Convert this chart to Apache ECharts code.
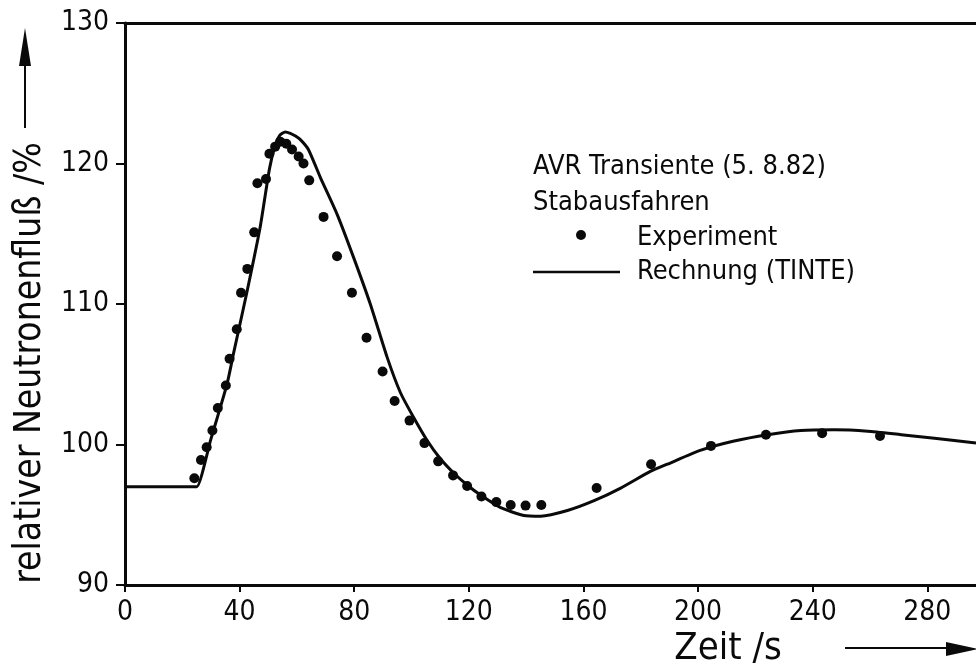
<!DOCTYPE html>
<html>
<head>
<meta charset="utf-8">
<script src="https://cdn.jsdelivr.net/npm/echarts@6/dist/echarts.min.js"></script>
<style>
html,body{margin:0;padding:0;background:#fff;}
#chart{width:976px;height:671px;}
</style>
</head>
<body>
<div id="chart"></div>
<script>
// ---- data ----
const xTicks = [0, 40, 80, 120, 160, 200, 240, 280];
const yTicks = [90, 100, 110, 120, 130];

// Rechnung (TINTE): time [s] and relative neutron flux [%]
const calcTime = [0, 12, 24.4, 25.1, 30, 35.6, 37.9, 42.5, 47.2, 50.4, 52.4, 54.0, 55.9, 57.7, 59.5, 61.2, 64.0, 68.2, 74.0, 79.8, 85.6, 91.5, 96.1, 100.8, 105.4, 110.0, 114.8, 119.5, 124.1, 131.1, 139.2, 145.1, 154.4, 163.7, 173.0, 183.5, 189.3, 201.0, 212.6, 224.3, 235.9, 247.6, 259.2, 270.9, 282.5, 297.0];
const calcFlux = [97.0, 97.0, 97.0, 97.0, 100.4, 104.3, 106.5, 110.8, 115.5, 119.6, 121.3, 122.0, 122.25, 122.15, 121.95, 121.7, 121.0, 119.0, 116.4, 113.3, 110.0, 106.2, 103.7, 101.9, 100.3, 99.0, 97.95, 97.1, 96.4, 95.5, 94.95, 94.9, 95.3, 96.0, 96.9, 98.1, 98.6, 99.6, 100.25, 100.7, 101.0, 101.05, 100.95, 100.7, 100.45, 100.1];

// Experiment points
const expTime = [24.2, 26.5, 28.5, 30.5, 32.4, 35.2, 36.5, 39.0, 40.5, 42.7, 45.1, 46.2, 49.2, 50.4, 52.4, 54.2, 56.3, 58.3, 60.6, 62.3, 64.3, 69.3, 74.0, 79.2, 84.3, 89.9, 94.1, 99.3, 104.5, 109.3, 114.5, 119.4, 124.4, 129.6, 134.6, 139.8, 145.3, 164.6, 183.6, 204.5, 223.7, 243.3, 263.5];
const expFlux = [97.6, 98.9, 99.8, 101.0, 102.6, 104.2, 106.1, 108.2, 110.8, 112.5, 115.1, 118.6, 118.9, 120.7, 121.2, 121.55, 121.4, 121.0, 120.5, 120.0, 118.8, 116.2, 113.4, 110.8, 107.6, 105.2, 103.1, 101.7, 100.1, 98.8, 97.8, 97.05, 96.3, 95.9, 95.7, 95.65, 95.7, 96.9, 98.6, 99.9, 100.7, 100.8, 100.6];

const titleText = 'AVR Transiente (5. 8.82)';
const subtitleText = 'Stabausfahren';
const expName = 'Experiment';
const calcName = 'Rechnung (TINTE)';
const xName = 'Zeit /s';
const yName = 'relativer Neutronenfluß /%';

// ---- chart ----
const NUM_FONT = '"DejaVu Sans Condensed", "DejaVu Sans", sans-serif';
const TXT_FONT = '"DejaVu Sans Condensed", "DejaVu Sans", sans-serif';
const INK = '#0a0a0a';

const chart = echarts.init(document.getElementById('chart'), null, {renderer: 'canvas'});

const option = {
  backgroundColor: '#ffffff',
  animation: false,
  grid: {left: 125, right: 0, top: 23, bottom: 86, containLabel: false},
  xAxis: [{
    type: 'value', min: 0, max: 297, interval: 40,
    axisLine: {show: true, onZero: false, lineStyle: {color: INK, width: 3}},
    axisTick: {show: true, length: 7, customValues: xTicks, lineStyle: {color: INK, width: 2}},
    axisLabel: {show: true, customValues: xTicks, margin: 14, color: INK, fontSize: 28, fontFamily: NUM_FONT},
    splitLine: {show: false}
  }, {
    type: 'value', position: 'top', min: 0, max: 297,
    axisLine: {show: true, onZero: false, lineStyle: {color: INK, width: 3}},
    axisTick: {show: false}, axisLabel: {show: false}, splitLine: {show: false}
  }],
  yAxis: {
    type: 'value', min: 90, max: 130, interval: 10,
    axisLine: {show: true, onZero: false, lineStyle: {color: INK, width: 3}},
    axisTick: {show: true, length: 9, customValues: yTicks, lineStyle: {color: INK, width: 2}},
    axisLabel: {show: true, customValues: yTicks, margin: 16, color: INK, fontSize: 28, fontFamily: NUM_FONT},
    splitLine: {show: false}
  },
  series: [{
    name: calcName, type: 'line', xAxisIndex: 0,
    data: calcTime.map((t, i) => [t, calcFlux[i]]),
    showSymbol: false, smooth: 0.2,
    lineStyle: {color: INK, width: 3}, z: 3
  }, {
    name: expName, type: 'scatter', xAxisIndex: 0,
    data: expTime.map((t, i) => [t, expFlux[i]]),
    symbol: 'circle', symbolSize: 10,
    itemStyle: {color: INK, opacity: 1}, z: 4
  }],
  graphic: [
    // y-axis title with arrow
    {type: 'text', x: 30, y: 363, rotation: Math.PI / 2,
     style: {text: yName, font: '37px ' + TXT_FONT, fill: INK, textAlign: 'center', textVerticalAlign: 'middle'}},
    {type: 'line', shape: {x1: 25, y1: 128, x2: 25, y2: 60}, style: {stroke: INK, lineWidth: 2}},
    {type: 'polygon', shape: {points: [[25, 28], [19, 66], [31, 66]]}, style: {fill: INK}},
    // x-axis title with arrow
    {type: 'text', x: 728, y: 649,
     style: {text: xName, font: '38px ' + TXT_FONT, fill: INK, textAlign: 'center', textVerticalAlign: 'middle'}},
    {type: 'line', shape: {x1: 845, y1: 648, x2: 952, y2: 648}, style: {stroke: INK, lineWidth: 2}},
    {type: 'polygon', shape: {points: [[978, 649], [946, 642], [946, 656]]}, style: {fill: INK}},
    // annotation / legend
    {type: 'text', x: 533, y: 167,
     style: {text: titleText, font: '27px ' + TXT_FONT, fill: INK, textAlign: 'left', textVerticalAlign: 'middle'}},
    {type: 'text', x: 533, y: 203,
     style: {text: subtitleText, font: '27px ' + TXT_FONT, fill: INK, textAlign: 'left', textVerticalAlign: 'middle'}},
    {type: 'circle', shape: {cx: 581, cy: 235, r: 5}, style: {fill: INK}},
    {type: 'text', x: 637, y: 238,
     style: {text: expName, font: '27px ' + TXT_FONT, fill: INK, textAlign: 'left', textVerticalAlign: 'middle'}},
    {type: 'line', shape: {x1: 533, y1: 272, x2: 620, y2: 272}, style: {stroke: INK, lineWidth: 2.5}},
    {type: 'text', x: 637, y: 272,
     style: {text: calcName, font: '27px ' + TXT_FONT, fill: INK, textAlign: 'left', textVerticalAlign: 'middle'}}
  ]
};
chart.setOption(option);
</script>
</body>
</html>
